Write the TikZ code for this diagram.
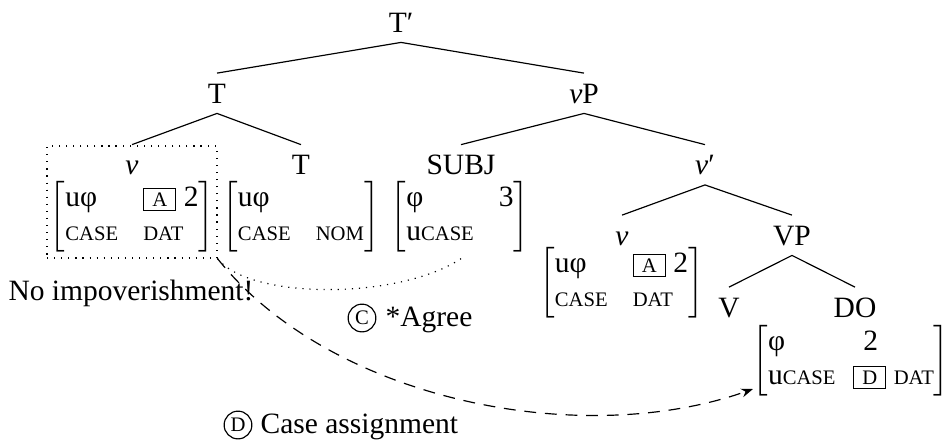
\documentclass[tikz,border=0pt]{standalone}
\usepackage{fontspec}
\setmainfont{Liberation Serif}
\usetikzlibrary{arrows.meta}
\newcommand{\fsc}[1]{{\fontsize{7}{8}\selectfont #1}}
\newcommand{\bx}[1]{{\setlength{\fboxsep}{1.2pt}\setlength{\fboxrule}{0.4pt}\fbox{\hspace{1.5pt}\fsc{#1}\hspace{1.5pt}}}}
\newcommand{\fmat}[2][8.5pt]{$\left[\hspace{0pt}\mbox{\renewcommand{\arraystretch}{0.95}\begin{tabular}{@{}l@{\hspace{#1}}l@{}}#2\end{tabular}}\hspace{0pt}\right]$}
\begin{document}
\begin{tikzpicture}[x=0.339pt,y=-0.339pt,
  lab/.style={anchor=base, text height=6.6pt, text depth=0pt, inner sep=3.33pt},
  fm/.style={inner sep=0pt},
  circ/.style={circle, draw, line width=0.4pt, inner sep=0pt, minimum size=9.4pt},
  txt/.style={inner sep=0pt}]
\useasboundingbox (0,0) rectangle (947,439);
% labels
\node[lab] (Tp) at (401,32) {T′};
\node[lab] (T) at (217,103) {T};
\node[lab] (vP) at (584,103) {\textit{v}P};
\node[lab] (v1) at (132,174.5) {\textit{v}};
\node[lab] (T2) at (301,174.5) {T};
\node[lab] (SUBJ) at (461,174.5) {SUBJ};
\node[lab] (vbar) at (705,174.5) {\textit{v}′};
\node[lab] (v2) at (622,245) {\textit{v}};
\node[lab] (VP) at (792,245) {VP};
\node[lab] (V) at (729,317) {V};
\node[lab] (DO) at (855,317) {DO};
% feature matrices
\node[fm] (m1) at (132,216.5) {\fmat{uφ & \bx{A} 2\\ \fsc{CASE} & \fsc{DAT}}};
\node[fm] (m2) at (301,216.5) {\fmat{uφ & \\ \fsc{CASE} & \fsc{NOM}}};
\node[fm] (m3) at (460,216.5) {\fmat{φ & 3\\ u\fsc{CASE} & }};
\node[fm] (m4) at (621.5,282.5) {\fmat{uφ & \bx{A} 2\\ \fsc{CASE} & \fsc{DAT}}};
\node[fm] (m5) at (851,361) {\fmat[6pt]{φ & \hspace{3.4pt}2\\ u\fsc{CASE} & \bx{D} \fsc{DAT}}};
% tree
\draw (Tp.south) -- (T.north);
\draw (Tp.south) -- (vP.north);
\draw (T.south) -- (v1.north);
\draw (T.south) -- (T2.north);
\draw (vP.south) -- (SUBJ.north);
\draw (vP.south) -- (vbar.north);
\draw (vbar.south) -- (v2.north);
\draw (vbar.south) -- (VP.north);
\draw (VP.south) -- (V.north);
\draw (VP.south) -- (DO.north);
% dotted box
\node[draw, dotted, inner sep=0pt, minimum width=57.6pt, minimum height=38pt] (vbox) at (132,202) {};
\coordinate (agr) at (462,258);
\coordinate (tipD) at (753,389);
\draw[dotted] (vbox.south east) .. controls (250,300) and (400,300) .. (agr);
\draw[dash pattern=on 4pt off 3pt, -{Stealth[length=4pt,width=3pt]}] (vbox.south east) .. controls (330,400) and (580,450) .. (tipD);
% annotations
\node[txt, anchor=base] (noimp) at (131,300) {No impoverishment!};
\node[circ] (cC) at (362,318) {\fsc{C}};
\node[txt, anchor=base west] (agree) at (385,326) {*Agree};
\node[circ] (cD) at (238,425) {\fsc{D}};
\node[txt, anchor=base west] (caseas) at (260,433) {Case assignment};
\end{tikzpicture}
\end{document}
